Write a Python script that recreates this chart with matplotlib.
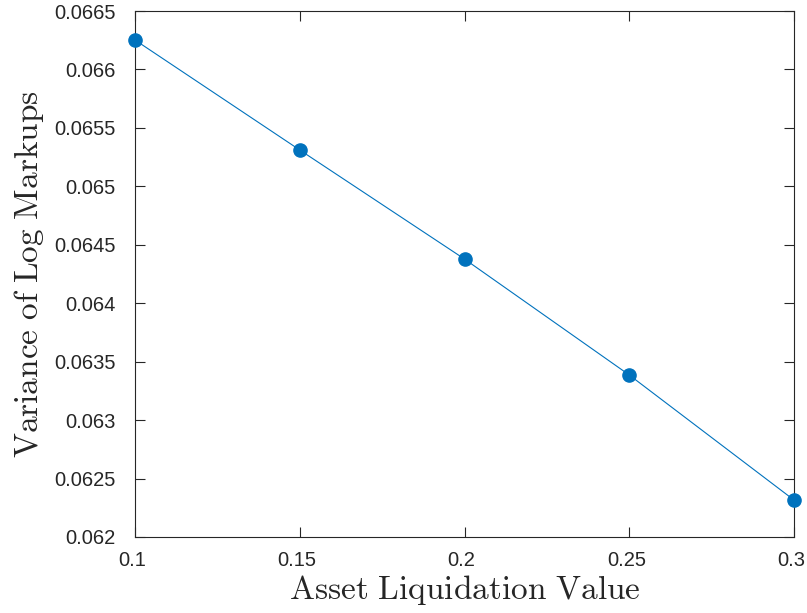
import matplotlib
matplotlib.use("Agg")
import matplotlib.pyplot as plt
import matplotlib.transforms as mtransforms
from matplotlib.ticker import FixedLocator, FixedFormatter

x_vals = [0.1, 0.15, 0.2, 0.25, 0.3]
variance = [0.066252, 0.065311, 0.064378, 0.063386, 0.062316]
x_ticks = [0.1, 0.15, 0.2, 0.25, 0.3]
x_tick_labels = ["0.1", "0.15", "0.2", "0.25", "0.3"]
y_ticks = [0.062, 0.0625, 0.063, 0.0635, 0.064, 0.0645, 0.065, 0.0655, 0.066, 0.0665]
y_tick_labels = ["0.062", "0.0625", "0.063", "0.0635", "0.064", "0.0645", "0.065", "0.0655", "0.066", "0.0665"]

plt.rcParams['mathtext.fontset'] = 'cm'
plt.rcParams['font.family'] = ['Liberation Sans']

fig = plt.figure(figsize=(8.07, 6.13), dpi=100)
ax = fig.add_axes([0.1673, 0.124, 0.9839 - 0.1673, 0.982 - 0.124])

ax.plot(x_vals, variance, color='#0072BD', linewidth=0.8, marker='o',
        markersize=9.5, markerfacecolor='#0072BD', markeredgecolor='#0072BD',
        clip_on=False, zorder=3)

ax.set_xlim(0.1, 0.3)
ax.set_ylim(0.062, 0.0665)
ax.xaxis.set_major_locator(FixedLocator(x_ticks))
ax.xaxis.set_major_formatter(FixedFormatter(x_tick_labels))
ax.yaxis.set_major_locator(FixedLocator(y_ticks))
ax.yaxis.set_major_formatter(FixedFormatter(y_tick_labels))

axis_color = '#262626'
for s in ax.spines.values():
    s.set_color(axis_color)
    s.set_linewidth(0.8)
ax.tick_params(direction='in', length=7, width=0.8, color=axis_color,
               top=True, right=True, labelsize=14.5, labelcolor=axis_color)
ax.tick_params(axis='x', pad=10)
ax.tick_params(axis='y', pad=14)

shift = mtransforms.ScaledTranslation(-3 / 100, 0, fig.dpi_scale_trans)
for lab in ax.get_xticklabels():
    lab.set_transform(lab.get_transform() + shift)

ax.set_xlabel(r'$\mathrm{Asset\ Liquidation\ Value}$', fontsize=24, color=axis_color, labelpad=2)
ax.set_ylabel(r'$\mathrm{Variance\ of\ Log\ Markups}$', fontsize=24, color=axis_color, labelpad=6)

fig.savefig('out.png', dpi=100)
